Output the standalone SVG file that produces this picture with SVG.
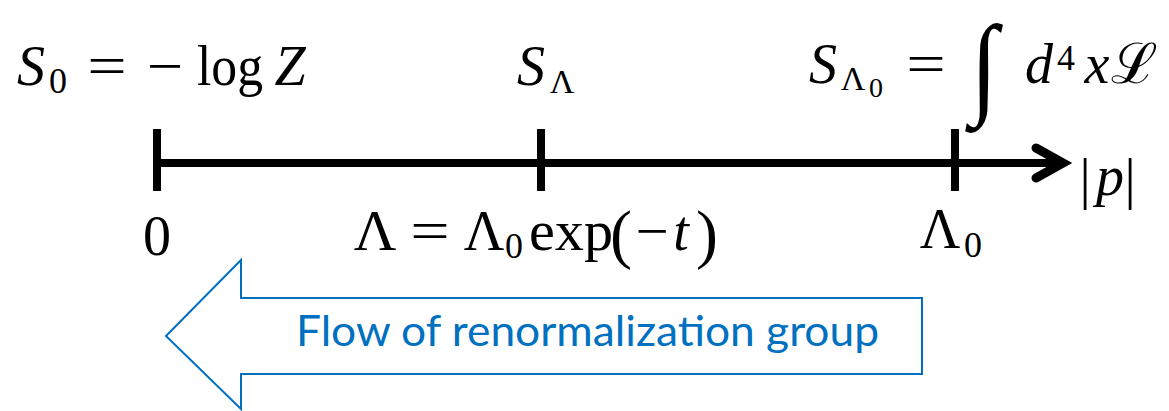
<svg xmlns="http://www.w3.org/2000/svg" width="1169" height="411" viewBox="0 0 1169 411">
<style>
.m{font-family:"Liberation Serif","DejaVu Serif",serif;font-size:56px;fill:#000}
.i{font-style:italic}
.s{font-size:36px}
.ss{font-size:28px}
.ax{stroke:#000;stroke-width:8;fill:none}
.flow{font-family:Lato,"Open Sans",sans-serif;font-size:42px;fill:#0070C0}
</style>
<rect width="1169" height="411" fill="#fff"/>
<g id="connectors">
  <line class="ax" x1="157" y1="163" x2="1060" y2="163"/>
  <polyline points="1036,148 1063,163 1036,178" fill="none" stroke="#000" stroke-width="9" stroke-linecap="round" stroke-linejoin="miter"/>
</g>
<g id="tick-0"><line class="ax" x1="157" y1="129" x2="157" y2="191"/></g>
<g id="tick-lambda"><line class="ax" x1="541" y1="129" x2="541" y2="191"/></g>
<g id="tick-lambda0"><line class="ax" x1="955" y1="129" x2="955" y2="191"/></g>
<g id="label-S0" class="m" text-anchor="middle">
  <text x="31" y="85" class="i">S</text>
  <text x="58" y="93" class="s">0</text>
  <text transform="translate(107,85) scale(1.25,1)">=</text>
  <text transform="translate(165,85) scale(1.15,1)">−</text>
  <text x="197" y="85" text-anchor="start" textLength="66" lengthAdjust="spacingAndGlyphs">log</text>
  <text x="290" y="85" class="i">Z</text>
</g>
<g id="label-SLambda" class="m" text-anchor="middle">
  <text x="531" y="85" class="i">S</text>
  <text x="562" y="93" style="font-size:34px">Λ</text>
</g>
<g id="label-SLambda0" class="m" text-anchor="middle">
  <text x="823" y="83" class="i">S</text>
  <text x="853" y="90" style="font-size:34px">Λ</text>
  <text x="876" y="97" class="ss">0</text>
  <text transform="translate(926,83) scale(1.25,1)">=</text>
  <text transform="translate(984,103) scale(1,1.12)" style="font-size:100px" class="i">∫</text>
  <text x="1039" y="83" class="i">d</text>
  <text x="1066" y="70" class="s">4</text>
  <text x="1097" y="83" class="i">x</text>
  <text x="1134" y="83">ℒ</text>
</g>
<g id="label-zero" class="m" text-anchor="middle">
  <text x="157" y="255">0</text>
</g>
<g id="label-lambda" class="m" text-anchor="middle">
  <text transform="translate(375,250) scale(1.05,1)">Λ</text>
  <text transform="translate(430,250) scale(1.25,1)">=</text>
  <text x="484" y="250">Λ</text>
  <text x="514" y="258" class="s">0</text>
  <text x="529" y="250" text-anchor="start" textLength="84" lengthAdjust="spacingAndGlyphs">exp</text>
  <text x="621" y="256" style="font-size:66px">(</text>
  <text transform="translate(652,250) scale(1.05,1)">−</text>
  <text x="681" y="250" class="i">t</text>
  <text x="707" y="256" style="font-size:66px">)</text>
</g>
<g id="label-lambda0" class="m" text-anchor="middle">
  <text x="940" y="248">Λ</text>
  <text x="973" y="257" class="s">0</text>
</g>
<g id="label-p" class="m" text-anchor="middle">
  <text x="1085" y="198">|</text>
  <text x="1110" y="195" class="i">p</text>
  <text x="1130" y="198">|</text>
</g>
<g id="flow-arrow">
  <polygon points="166,336 241,260 241,298 922,298 922,374 241,374 241,409" fill="#fff" stroke="#0070C0" stroke-width="2"/>
  <text class="flow" x="296" y="346" textLength="583" lengthAdjust="spacingAndGlyphs">Flow of renormalization group</text>
</g>
</svg>
